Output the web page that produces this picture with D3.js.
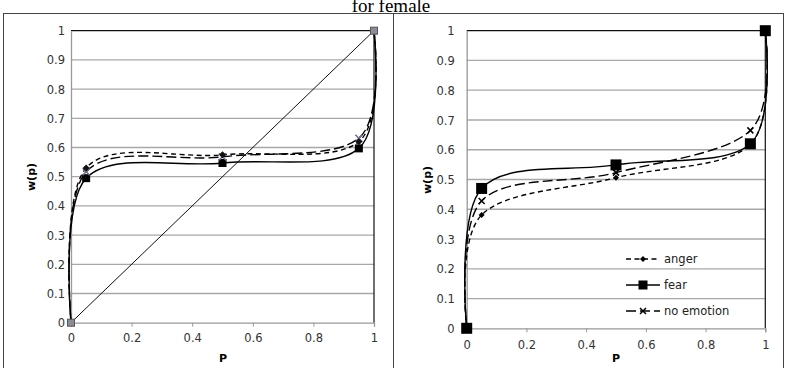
<!DOCTYPE html>
<html>
<head>
<meta charset="utf-8">
<script src="https://cdn.jsdelivr.net/npm/d3@7"></script>
<style>
  body { margin: 0; background: #fff; }
  svg text { font-family: "DejaVu Sans", sans-serif; }
</style>
</head>
<body>
<div id="chart"></div>
<script>
// probabilities on the x axis
var pVals = [0, 0.05, 0.5, 0.95, 1];
var yTicks = [0, 0.1, 0.2, 0.3, 0.4, 0.5, 0.6, 0.7, 0.8, 0.9, 1];
var xTicks = [0, 0.2, 0.4, 0.6, 0.8, 1];

// left panel (female)
var leftAnger = [0, 0.53, 0.575, 0.62, 1];
var leftFear = [0, 0.495, 0.547, 0.597, 1];
var leftNoEmotion = [0, 0.517, 0.568, 0.632, 1];
var diagonal = [0, 1];

// right panel
var rightAnger = [0, 0.381, 0.506, 0.618, 1];
var rightFear = [0, 0.470, 0.549, 0.620, 1];
var rightNoEmotion = [0, 0.428, 0.523, 0.665, 1];

var legendNames = ["anger", "fear", "no emotion"];

var width = 786, height = 368;

var svg = d3.select("#chart").append("svg")
    .attr("width", width)
    .attr("height", height);

// outer frames
svg.append("rect").attr("x", 3.5).attr("y", 13.5).attr("width", 390).attr("height", 360)
    .attr("fill", "none").attr("stroke", "#444").attr("stroke-width", 1);
svg.append("rect").attr("x", 393.5).attr("y", 13.5).attr("width", 390).attr("height", 360)
    .attr("fill", "none").attr("stroke", "#444").attr("stroke-width", 1);

// title (top partly cut, like the source)
svg.append("text")
    .attr("x", 391).attr("y", 12)
    .attr("text-anchor", "middle")
    .style("font-family", "'Liberation Serif', serif")
    .style("font-size", "19px")
    .text("for female");

var styles = {
  anger: { dash: "5,3.5" },
  fear: { dash: null },
  noemo: { dash: "10,4" }
};

function drawPanel(cfg) {
  var x = d3.scaleLinear().domain([0, 1]).range([cfg.x0, cfg.x1]);
  var y = d3.scaleLinear().domain([0, 1]).range([cfg.y0, cfg.y1]);
  var g = svg.append("g");

  // gridlines
  g.selectAll("line.grid")
    .data(yTicks.filter(function(d) { return d > 0 && d < 1; }))
    .enter().append("line")
    .attr("x1", x(0)).attr("x2", x(1))
    .attr("y1", function(d) { return y(d); })
    .attr("y2", function(d) { return y(d); })
    .attr("stroke", "#a8a8a8").attr("stroke-width", 1.3);

  // plot area border top/right
  g.append("line").attr("x1", x(0)).attr("x2", x(1)).attr("y1", y(1)).attr("y2", y(1))
    .attr("stroke", "#111").attr("stroke-width", 1.2);
  g.append("line").attr("x1", x(1)).attr("x2", x(1)).attr("y1", y(0)).attr("y2", y(1))
    .attr("stroke", "#111").attr("stroke-width", 1.2);

  // axes
  var xAxis = d3.axisBottom(x).tickValues(xTicks).tickSize(4)
    .tickFormat(function(d) { return d3.format("")(d); });
  var yAxis = d3.axisLeft(y).tickValues(yTicks).tickSize(0)
    .tickFormat(function(d) { return d3.format("")(d); });

  var gx = g.append("g").attr("transform", "translate(0," + y(0) + ")").call(xAxis);
  gx.select(".domain").attr("stroke", "#999").attr("stroke-width", 1.3);
  gx.selectAll(".tick line").attr("stroke", "#999");
  gx.selectAll("text").attr("font-size", 11.5).attr("fill", "#333")
    .attr("font-family", "DejaVu Sans, sans-serif").attr("dy", null)
    .attr("y", cfg.xLabelY - y(0)).attr("dominant-baseline", "middle");

  var gy = g.append("g").attr("transform", "translate(" + x(0) + ",0)").call(yAxis);
  gy.select(".domain").attr("stroke", "#999").attr("stroke-width", 1.3);
  gy.selectAll("text").attr("font-size", 11.5).attr("fill", "#333")
    .attr("font-family", "DejaVu Sans, sans-serif")
    .attr("x", -cfg.yLabelGap).attr("dy", "0.35em");

  // axis titles
  g.append("text").attr("x", cfg.pX).attr("y", 359).attr("text-anchor", "middle")
    .attr("dominant-baseline", "middle")
    .attr("font-size", 11).attr("font-weight", "bold").text("P");
  g.append("text")
    .attr("transform", "translate(" + cfg.wX + "," + cfg.wY + ") rotate(-90)")
    .attr("text-anchor", "middle").attr("dominant-baseline", "middle")
    .attr("font-size", 11).attr("font-weight", "bold").text("w(p)");

  var line = d3.line()
    .x(function(d) { return x(d[0]); })
    .y(function(d) { return y(d[1]); })
    .curve(d3.curveCardinal.tension(0));

  if (cfg.diagonal) {
    g.append("path")
      .attr("d", d3.line().x(function(d) { return x(d); }).y(function(d) { return y(d); })(diagonal))
      .attr("fill", "none").attr("stroke", "#111").attr("stroke-width", 1);
  }

  cfg.series.forEach(function(s) {
    var pts = pVals.map(function(p, i) { return [p, s.values[i]]; });
    g.append("path")
      .attr("d", line(pts))
      .attr("fill", "none")
      .attr("stroke", "#000")
      .attr("stroke-width", 1.4)
      .attr("stroke-dasharray", styles[s.kind].dash);
    s.pts = pts;
  });

  // markers drawn after all lines
  cfg.series.forEach(function(s) {
    s.pts.forEach(function(d, i) {
      if (cfg.endMarker && (i === 0 || i === s.pts.length - 1)) return;
      drawMarker(g, s.kind, x(d[0]), y(d[1]), cfg.markerSize[s.kind], cfg.markerColor[s.kind]);
    });
  });

  if (cfg.endMarker) {
    [0, pVals.length - 1].forEach(function(i) {
      g.append("rect")
        .attr("x", x(pVals[i]) - 3.5).attr("y", y(cfg.series[0].values[i]) - 3.5)
        .attr("width", 7).attr("height", 7)
        .attr("fill", "#8c8c98").attr("stroke", "#555").attr("stroke-width", 1);
    });
  }
  return { x: x, y: y, g: g };
}

function drawMarker(g, kind, cx, cy, size, color) {
  if (kind === "fear") {
    g.append("rect").attr("x", cx - size / 2).attr("y", cy - size / 2)
      .attr("width", size).attr("height", size).attr("fill", color);
  } else if (kind === "anger") {
    var h = size / 2;
    g.append("path")
      .attr("d", "M" + cx + "," + (cy - h) + "L" + (cx + h) + "," + cy + "L" + cx + "," + (cy + h) + "L" + (cx - h) + "," + cy + "Z")
      .attr("fill", color);
  } else {
    var k = size / 2;
    g.append("path")
      .attr("d", "M" + (cx - k) + "," + (cy - k) + "L" + (cx + k) + "," + (cy + k) +
                 "M" + (cx - k) + "," + (cy + k) + "L" + (cx + k) + "," + (cy - k))
      .attr("stroke", color).attr("stroke-width", 1.5);
  }
}

drawPanel({
  x0: 71, x1: 374, y0: 322.7, y1: 30.7,
  xLabelY: 339, yLabelGap: 6, pX: 223, wX: 32, wY: 177,
  diagonal: true, endMarker: true,
  markerSize: { anger: 7, fear: 8, noemo: 7 },
  markerColor: { anger: "#111", fear: "#000", noemo: "#6e6a8c" },
  series: [
    { kind: "fear", values: leftFear },
    { kind: "noemo", values: leftNoEmotion },
    { kind: "anger", values: leftAnger }
  ]
});

var right = drawPanel({
  x0: 466.7, x1: 765.3, y0: 328.3, y1: 30.7,
  xLabelY: 345.7, yLabelGap: 12, pX: 616, wX: 428, wY: 180,
  diagonal: false, endMarker: false,
  markerSize: { anger: 6, fear: 11, noemo: 6 },
  markerColor: { anger: "#000", fear: "#000", noemo: "#000" },
  series: [
    { kind: "anger", values: rightAnger },
    { kind: "noemo", values: rightNoEmotion },
    { kind: "fear", values: rightFear }
  ]
});

// legend
var legendKinds = ["anger", "fear", "noemo"];
var legendY = d3.scalePoint().domain(legendNames).range([259, 311]);
var legendSizes = { anger: 6, fear: 9, noemo: 6 };
legendNames.forEach(function(name, i) {
  var kind = legendKinds[i];
  var ly = legendY(name);
  right.g.append("line")
    .attr("x1", 626).attr("x2", 660).attr("y1", ly).attr("y2", ly)
    .attr("stroke", "#000").attr("stroke-width", 1.3)
    .attr("stroke-dasharray", styles[kind].dash);
  drawMarker(right.g, kind, 643, ly, legendSizes[kind], "#000");
  right.g.append("text")
    .attr("x", 664).attr("y", ly).attr("dy", "0.35em")
    .attr("font-size", 11.5).attr("fill", "#222")
    .text(name);
});
</script>
</body>
</html>
